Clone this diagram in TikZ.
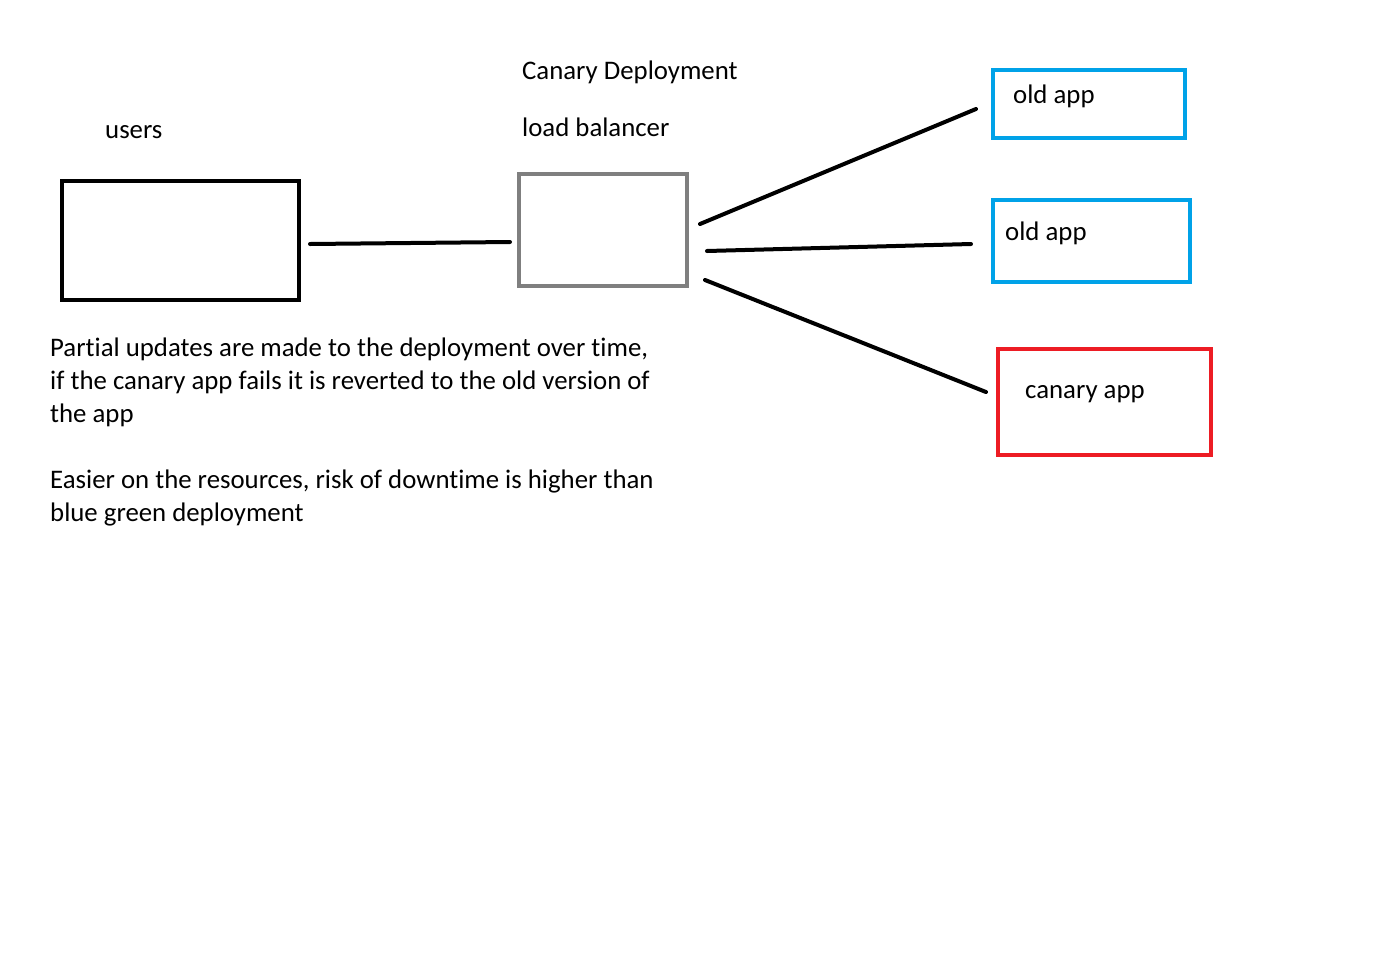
\documentclass[tikz,border=0pt]{standalone}
\usepackage{fontspec}
\setmainfont[Ligatures=NoCommon]{Carlito}
\definecolor{lbgray}{HTML}{7F7F7F}
\definecolor{appblue}{HTML}{00A2E8}
\definecolor{appred}{HTML}{ED1C24}
\tikzset{
  lbl/.style={anchor=base west, inner sep=0pt, font=\fontsize{26.8}{33}\selectfont},
  conn/.style={line width=4pt, line cap=round, black},
  boxline/.style={line width=4pt}
}
\begin{document}
\begin{tikzpicture}[x=1pt,y=-1pt]
\useasboundingbox[fill=white] (0,0) rectangle (1382,970);
% boxes
\draw[boxline, black] (62,181) rectangle (299,300);
\node[inner sep=0pt, minimum width=237pt, minimum height=119pt] (users) at (180.5,240.5) {};
\draw[boxline, lbgray] (519,174) rectangle (687,286);
\node[inner sep=0pt, minimum width=168pt, minimum height=112pt] (lb) at (603,230) {};
\draw[boxline, appblue] (993,70) rectangle (1185,138);
\node[inner sep=0pt, minimum width=192pt, minimum height=68pt] (old1) at (1089,104) {};
\draw[boxline, appblue] (993,200) rectangle (1190,282);
\node[inner sep=0pt, minimum width=197pt, minimum height=82pt] (old2) at (1091.5,241) {};
\draw[boxline, appred] (998,349) rectangle (1211,455);
\node[inner sep=0pt, minimum width=213pt, minimum height=106pt] (canary) at (1104.5,402) {};
% connector end points
\coordinate (u1) at (310,244);
\coordinate (l0) at (510,242);
\coordinate (l1) at (700,224);
\coordinate (a1) at (976,109);
\coordinate (l2) at (707,251);
\coordinate (a2) at (971,244);
\coordinate (l3) at (705,280);
\coordinate (a3) at (986,392);
\draw[conn] (u1) -- (410,243) -- (l0);
\draw[conn] (l1) -- (a1);
\draw[conn] (l2) -- (a2);
\draw[conn] (l3) -- (a3);
% labels
\node[lbl] (tusers) at (105,138) {users};
\node[lbl] (ttitle) at (522,79) {Canary Deployment};
\node[lbl] (tlb) at (522,136) {load balancer};
\node[lbl] (told1) at (1013,103) {old app};
\node[lbl] (told2) at (1005,240) {old app};
\node[lbl] (tcan) at (1025,398) {canary app};
\node[lbl, align=left] (p1) at (50,422) {Partial updates are made to the deployment over time,\\if the canary app fails it is reverted to the old version of\\the app};
\node[lbl, align=left] (p2) at (50,521) {Easier on the resources, risk of downtime is higher than\\blue green deployment};
\end{tikzpicture}
\end{document}
